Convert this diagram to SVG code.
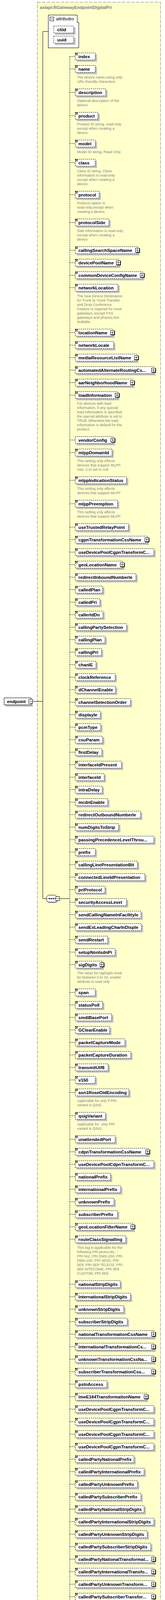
<svg xmlns="http://www.w3.org/2000/svg" width="422" height="4421" viewBox="0 0 422 4421">
<style>
.t{font-family:"Liberation Sans",Arial,sans-serif;font-size:11.3px;font-weight:bold;fill:#000}
.d{font-family:"Liberation Sans",Arial,sans-serif;font-size:9.3px;fill:#808080;white-space:pre}
.b{fill:#fff;stroke:#000;stroke-dasharray:3 2}
.s{fill:#c0c0c0}
.ln{fill:none;stroke:#000}
.dl{fill:none;stroke:#000;stroke-dasharray:3 2}
</style>
<defs>
<g id="i"><path d="M193,1.5h6M193,3.5h6M193,5.5h6" stroke="#000" fill="none"/></g>
<g id="p"><rect x="186.5" y="4.5" width="10" height="10" fill="#fff" stroke="#000"/><path d="M197.5,5v10.5H187" stroke="#000" fill="none"/><path d="M188.5,9.5h6M191.5,6.5v6" stroke="#000"/></g>
</defs>
<rect width="422" height="4421" fill="#fff"/>
<rect x="95.5" y="5.5" width="315" height="4409" fill="#ffffcc" stroke="#808080" stroke-dasharray="9 3"/>
<text x="102" y="23" style="font-family:'Liberation Sans',Arial,sans-serif;font-size:11px;font-weight:bold;fill:#808080">axlapi:RGatewayEndpointDigitalPri</text>

<g id="connectors">
<path class="ln" d="M109.5,80.5H123.5M109.5,80.5V2300.5M84,1795.5H109.5M109.5,2300.5H118.5M152.5,2300.5H178.5"/>
<path class="dl" d="M178.5,144.5V4389.5M178.5,144.5h14M178.5,176.5h14M178.5,236.5h14M178.5,296.5h14M178.5,367.5h14M178.5,416.5h14M178.5,498.5h14M178.5,569.5h14M178.5,640.5h14M178.5,672.5h14M178.5,704.5h14M178.5,736.5h14M178.5,851.5h14M178.5,883.5h14M178.5,915.5h14M178.5,947.5h14M178.5,979.5h14M178.5,1011.5h14M178.5,1126.5h14M178.5,1158.5h14M178.5,1229.5h14M178.5,1289.5h14M178.5,1349.5h14M178.5,1381.5h14M178.5,1413.5h14M178.5,1445.5h14M178.5,1477.5h14M178.5,1509.5h14M178.5,1541.5h14M178.5,1573.5h14M178.5,1605.5h14M178.5,1637.5h14M178.5,1669.5h14M178.5,1701.5h14M178.5,1733.5h14M178.5,1765.5h14M178.5,1797.5h14M178.5,1829.5h14M178.5,1861.5h14M178.5,1893.5h14M178.5,1925.5h14M178.5,1957.5h14M178.5,1989.5h14M178.5,2021.5h14M178.5,2053.5h14M178.5,2085.5h14M178.5,2117.5h14M178.5,2149.5h14M178.5,2181.5h14M178.5,2213.5h14M178.5,2245.5h14M178.5,2277.5h14M178.5,2309.5h14M178.5,2341.5h14M178.5,2373.5h14M178.5,2405.5h14M178.5,2437.5h14M178.5,2469.5h14M178.5,2540.5h14M178.5,2572.5h14M178.5,2604.5h14M178.5,2636.5h14M178.5,2668.5h14M178.5,2700.5h14M178.5,2732.5h14M178.5,2764.5h14M178.5,2796.5h14M178.5,2856.5h14M178.5,2916.5h14M178.5,2948.5h14M178.5,2980.5h14M178.5,3012.5h14M178.5,3044.5h14M178.5,3076.5h14M178.5,3108.5h14M178.5,3140.5h14M178.5,3172.5h14M178.5,3287.5h14M178.5,3319.5h14M178.5,3351.5h14M178.5,3383.5h14M178.5,3415.5h14M178.5,3447.5h14M178.5,3479.5h14M178.5,3511.5h14M178.5,3543.5h14M178.5,3575.5h14M178.5,3607.5h14M178.5,3639.5h14M178.5,3671.5h14M178.5,3703.5h14M178.5,3735.5h14M178.5,3767.5h14M178.5,3799.5h14M178.5,3831.5h14M178.5,3863.5h14M178.5,3895.5h14M178.5,3927.5h14M178.5,3959.5h14M178.5,3991.5h14M178.5,4023.5h14M178.5,4055.5h14M178.5,4087.5h14M178.5,4119.5h14M178.5,4151.5h14M178.5,4183.5h14M178.5,4215.5h14M178.5,4247.5h14M178.5,4318.5h14M178.5,4389.5h14"/>
</g>

<g id="endpoint"><rect class="s" x="14" y="1790" width="70" height="19"/><rect x="10.5" y="1786.5" width="69" height="18" fill="#fff" stroke="#000"/><text class="t" x="18" y="1800">endpoint</text><rect x="73.5" y="1790.5" width="10" height="10" fill="#fff" stroke="#000"/><path d="M75.5,1795.5h6" stroke="#000"/></g>

<g id="attributes"><path d="M123.5,38.5H197.5V57.5H201.5V122.5H123.5Z" fill="#fff" stroke="#000"/><rect x="127.5" y="43.5" width="10" height="10" fill="#fff" stroke="#000"/><path d="M129.5,48.5h6" stroke="#000"/><text x="143" y="52" style="font-family:'Liberation Sans',Arial,sans-serif;font-size:11.3px;font-style:italic">attributes</text>
<g id="ctiid"><rect class="s" x="141" y="70" width="52" height="19"/><rect class="b" x="137.5" y="66.5" width="51" height="18"/><text class="t" x="146" y="80">ctiid</text></g>
<g id="uuid"><rect class="s" x="141" y="96" width="52" height="19"/><rect class="b" x="137.5" y="92.5" width="51" height="18"/><text class="t" x="146" y="106">uuid</text></g>
</g>

<g id="sequence"><polygon points="124,2294 144,2294 149,2299 149,2307 144,2312 124,2312 119,2307 119,2299" fill="#c0c0c0"/><polygon points="123.5,2291.5 141.5,2291.5 146.5,2296.5 146.5,2304.5 141.5,2309.5 123.5,2309.5 118.5,2304.5 118.5,2296.5" fill="#fff" stroke="#000"/><path d="M121,2300.5h22" stroke="#000"/><rect x="126" y="2299" width="2" height="3"/><rect x="131" y="2299" width="2" height="3"/><rect x="136" y="2299" width="2" height="3"/><rect x="142.5" y="2295.5" width="10" height="10" fill="#fff" stroke="#000"/><path d="M144.5,2300.5h6" stroke="#000"/></g>

<g id="index" transform="translate(0,135)"><rect class="s" x="196" y="4" width="52" height="19"/><rect class="b" x="192.5" y="0.5" width="51" height="18"/><use href="#i"/><text class="t" x="200.5" y="14">index</text></g>
<g id="name" transform="translate(0,167)"><rect class="s" x="196" y="4" width="52" height="19"/><rect class="b" x="192.5" y="0.5" width="51" height="18"/><use href="#i"/><text class="t" x="200.5" y="14">name</text><text class="d" x="197" y="34">The device name,using only<tspan x="197" dy="11">URL-friendly characters</tspan></text></g>
<g id="description" transform="translate(0,227)"><rect class="s" x="196" y="4" width="79" height="19"/><rect class="b" x="192.5" y="0.5" width="78" height="18"/><use href="#i"/><text class="t" x="200.5" y="14">description</text><text class="d" x="197" y="34">Optional description of the<tspan x="197" dy="11">device</tspan></text></g>
<g id="product" transform="translate(0,287)"><rect class="s" x="196" y="4" width="59" height="19"/><rect class="b" x="192.5" y="0.5" width="58" height="18"/><use href="#i"/><text class="t" x="200.5" y="14">product</text><text class="d" x="197" y="34">Product ID string. read-only<tspan x="197" dy="11">except when creating a</tspan><tspan x="197" dy="11">device.</tspan></text></g>
<g id="model" transform="translate(0,358)"><rect class="s" x="196" y="4" width="52" height="19"/><rect class="b" x="192.5" y="0.5" width="51" height="18"/><use href="#i"/><text class="t" x="200.5" y="14">model</text><text class="d" x="197" y="34">Model ID string. Read Only</text></g>
<g id="class" transform="translate(0,407)"><rect class="s" x="196" y="4" width="52" height="19"/><rect class="b" x="192.5" y="0.5" width="51" height="18"/><use href="#i"/><text class="t" x="200.5" y="14">class</text><text class="d" x="197" y="34">Class ID string. Class<tspan x="197" dy="11">information is read-only</tspan><tspan x="197" dy="11">except when creating a</tspan><tspan x="197" dy="11">device.</tspan></text></g>
<g id="protocol" transform="translate(0,489)"><rect class="s" x="196" y="4" width="62" height="19"/><rect class="b" x="192.5" y="0.5" width="61" height="18"/><use href="#i"/><text class="t" x="200.5" y="14">protocol</text><text class="d" x="197" y="34">Protocol option is<tspan x="197" dy="11">read-only,except when</tspan><tspan x="197" dy="11">creating a device.</tspan></text></g>
<g id="protocolSide" transform="translate(0,560)"><rect class="s" x="196" y="4" width="87" height="19"/><rect class="b" x="192.5" y="0.5" width="86" height="18"/><use href="#i"/><text class="t" x="200.5" y="14">protocolSide</text><text class="d" x="197" y="34">Side information is read-only<tspan x="197" dy="11">except when creating a</tspan><tspan x="197" dy="11">device</tspan></text></g>
<g id="callingSearchSpaceName" transform="translate(0,631)"><rect class="s" x="196" y="4" width="161" height="19"/><rect class="b" x="192.5" y="0.5" width="160" height="18"/><use href="#i"/><text class="t" x="200.5" y="14">callingSearchSpaceName</text><use href="#p" x="160"/></g>
<g id="devicePoolName" transform="translate(0,663)"><rect class="s" x="196" y="4" width="112" height="19"/><rect class="b" x="192.5" y="0.5" width="111" height="18"/><use href="#i"/><text class="t" x="200.5" y="14">devicePoolName</text><use href="#p" x="111"/></g>
<g id="commonDeviceConfigName" transform="translate(0,695)"><rect class="s" x="196" y="4" width="173" height="19"/><rect class="b" x="192.5" y="0.5" width="172" height="18"/><use href="#i"/><text class="t" x="200.5" y="14">commonDeviceConfigName</text><use href="#p" x="172"/></g>
<g id="networkLocation" transform="translate(0,727)"><rect class="s" x="196" y="4" width="110" height="19"/><rect class="b" x="192.5" y="0.5" width="109" height="18"/><use href="#i"/><text class="t" x="200.5" y="14">networkLocation</text><text class="d" x="197" y="34">The new Device Destination<tspan x="197" dy="11">for Trunk to Trunk Transfer</tspan><tspan x="197" dy="11">and Drop Conference</tspan><tspan x="197" dy="11">Feature is required for most</tspan><tspan x="197" dy="11">gateways ,except FXS</tspan><tspan x="197" dy="11">gateways and phones.Not</tspan><tspan x="197" dy="11">Nullable.</tspan></text></g>
<g id="locationName" transform="translate(0,842)"><rect class="s" x="196" y="4" width="97" height="19"/><rect class="b" x="192.5" y="0.5" width="96" height="18"/><use href="#i"/><text class="t" x="200.5" y="14">locationName</text><use href="#p" x="96"/></g>
<g id="networkLocale" transform="translate(0,874)"><rect class="s" x="196" y="4" width="99" height="19"/><rect class="b" x="192.5" y="0.5" width="98" height="18"/><use href="#i"/><text class="t" x="200.5" y="14">networkLocale</text></g>
<g id="mediaResourceListName" transform="translate(0,906)"><rect class="s" x="196" y="4" width="158" height="19"/><rect class="b" x="192.5" y="0.5" width="157" height="18"/><use href="#i"/><text class="t" x="200.5" y="14">mediaResourceListName</text><use href="#p" x="157"/></g>
<g id="automatedAlternateRoutingCssName" transform="translate(0,938)"><rect class="s" x="196" y="4" width="202" height="19"/><rect class="b" x="192.5" y="0.5" width="201" height="18"/><use href="#i"/><text class="t" x="200.5" y="14">automatedAlternateRoutingCs...</text><use href="#p" x="201"/></g>
<g id="aarNeighborhoodName" transform="translate(0,970)"><rect class="s" x="196" y="4" width="148" height="19"/><rect class="b" x="192.5" y="0.5" width="147" height="18"/><use href="#i"/><text class="t" x="200.5" y="14">aarNeighborhoodName</text><use href="#p" x="147"/></g>
<g id="loadInformation" transform="translate(0,1002)"><rect class="s" x="196" y="4" width="109" height="19"/><rect class="b" x="192.5" y="0.5" width="108" height="18"/><use href="#i"/><text class="t" x="200.5" y="14">loadInformation</text><use href="#p" x="108"/><text class="d" x="197" y="34">For devices with load<tspan x="197" dy="11">information, if any special</tspan><tspan x="197" dy="11">load information is specified</tspan><tspan x="197" dy="11">the special attribute is set to</tspan><tspan x="197" dy="11">TRUE.Otherwise,the load</tspan><tspan x="197" dy="11">information is default for the</tspan><tspan x="197" dy="11">product.</tspan></text></g>
<g id="vendorConfig" transform="translate(0,1117)"><rect class="s" x="196" y="4" width="98" height="19"/><rect class="b" x="192.5" y="0.5" width="97" height="18"/><text class="t" x="200.5" y="14">vendorConfig</text><use href="#p" x="97"/></g>
<g id="mlppDomainId" transform="translate(0,1149)"><rect class="s" x="196" y="4" width="95" height="19"/><rect class="b" x="192.5" y="0.5" width="94" height="18"/><use href="#i"/><text class="t" x="200.5" y="14">mlppDomainId</text><text class="d" x="197" y="34">This setting only effects<tspan x="197" dy="11">devices that support MLPP.</tspan><tspan x="197" dy="11">Use -1 to set to null</tspan></text></g>
<g id="mlppIndicationStatus" transform="translate(0,1220)"><rect class="s" x="196" y="4" width="132" height="19"/><rect class="b" x="192.5" y="0.5" width="131" height="18"/><use href="#i"/><text class="t" x="200.5" y="14">mlppIndicationStatus</text><text class="d" x="197" y="34">This setting only affects<tspan x="197" dy="11">devices that support MLPP</tspan></text></g>
<g id="mlppPreemption" transform="translate(0,1280)"><rect class="s" x="196" y="4" width="109" height="19"/><rect class="b" x="192.5" y="0.5" width="108" height="18"/><use href="#i"/><text class="t" x="200.5" y="14">mlppPreemption</text><text class="d" x="197" y="34">This setting only affects<tspan x="197" dy="11">devices that support MLPP</tspan></text></g>
<g id="useTrustedRelayPoint" transform="translate(0,1340)"><rect class="s" x="196" y="4" width="137" height="19"/><rect class="b" x="192.5" y="0.5" width="136" height="18"/><use href="#i"/><text class="t" x="200.5" y="14">useTrustedRelayPoint</text></g>
<g id="cgpnTransformationCssName" transform="translate(0,1372)"><rect class="s" x="196" y="4" width="185" height="19"/><rect class="b" x="192.5" y="0.5" width="184" height="18"/><use href="#i"/><text class="t" x="200.5" y="14">cgpnTransformationCssName</text><use href="#p" x="184"/></g>
<g id="useDevicePoolCgpnTransformCss" transform="translate(0,1404)"><rect class="s" x="196" y="4" width="202" height="19"/><rect class="b" x="192.5" y="0.5" width="201" height="18"/><use href="#i"/><text class="t" x="200.5" y="14">useDevicePoolCgpnTransformC...</text></g>
<g id="geoLocationName" transform="translate(0,1436)"><rect class="s" x="196" y="4" width="122" height="19"/><rect class="b" x="192.5" y="0.5" width="121" height="18"/><use href="#i"/><text class="t" x="200.5" y="14">geoLocationName</text><use href="#p" x="121"/></g>
<g id="redirectInboundNumberIe" transform="translate(0,1468)"><rect class="s" x="196" y="4" width="156" height="19"/><rect class="b" x="192.5" y="0.5" width="155" height="18"/><use href="#i"/><text class="t" x="200.5" y="14">redirectInboundNumberIe</text></g>
<g id="calledPlan" transform="translate(0,1500)"><rect class="s" x="196" y="4" width="71" height="19"/><rect class="b" x="192.5" y="0.5" width="70" height="18"/><use href="#i"/><text class="t" x="200.5" y="14">calledPlan</text></g>
<g id="calledPri" transform="translate(0,1532)"><rect class="s" x="196" y="4" width="64" height="19"/><rect class="b" x="192.5" y="0.5" width="63" height="18"/><use href="#i"/><text class="t" x="200.5" y="14">calledPri</text></g>
<g id="callerIdDn" transform="translate(0,1564)"><rect class="s" x="196" y="4" width="72" height="19"/><rect class="b" x="192.5" y="0.5" width="71" height="18"/><use href="#i"/><text class="t" x="200.5" y="14">callerIdDn</text></g>
<g id="callingPartySelection" transform="translate(0,1596)"><rect class="s" x="196" y="4" width="132" height="19"/><rect class="b" x="192.5" y="0.5" width="131" height="18"/><use href="#i"/><text class="t" x="200.5" y="14">callingPartySelection</text></g>
<g id="callingPlan" transform="translate(0,1628)"><rect class="s" x="196" y="4" width="77" height="19"/><rect class="b" x="192.5" y="0.5" width="76" height="18"/><use href="#i"/><text class="t" x="200.5" y="14">callingPlan</text></g>
<g id="callingPri" transform="translate(0,1660)"><rect class="s" x="196" y="4" width="68" height="19"/><rect class="b" x="192.5" y="0.5" width="67" height="18"/><use href="#i"/><text class="t" x="200.5" y="14">callingPri</text></g>
<g id="chanIE" transform="translate(0,1692)"><rect class="s" x="196" y="4" width="54" height="19"/><rect class="b" x="192.5" y="0.5" width="53" height="18"/><use href="#i"/><text class="t" x="200.5" y="14">chanIE</text></g>
<g id="clockReference" transform="translate(0,1724)"><rect class="s" x="196" y="4" width="103" height="19"/><rect class="b" x="192.5" y="0.5" width="102" height="18"/><use href="#i"/><text class="t" x="200.5" y="14">clockReference</text></g>
<g id="dChannelEnable" transform="translate(0,1756)"><rect class="s" x="196" y="4" width="104" height="19"/><rect class="b" x="192.5" y="0.5" width="103" height="18"/><use href="#i"/><text class="t" x="200.5" y="14">dChannelEnable</text></g>
<g id="channelSelectionOrder" transform="translate(0,1788)"><rect class="s" x="196" y="4" width="142" height="19"/><rect class="b" x="192.5" y="0.5" width="141" height="18"/><use href="#i"/><text class="t" x="200.5" y="14">channelSelectionOrder</text></g>
<g id="displayIe" transform="translate(0,1820)"><rect class="s" x="196" y="4" width="65" height="19"/><rect class="b" x="192.5" y="0.5" width="64" height="18"/><use href="#i"/><text class="t" x="200.5" y="14">displayIe</text></g>
<g id="pcmType" transform="translate(0,1852)"><rect class="s" x="196" y="4" width="66" height="19"/><rect class="b" x="192.5" y="0.5" width="65" height="18"/><use href="#i"/><text class="t" x="200.5" y="14">pcmType</text></g>
<g id="csuParam" transform="translate(0,1884)"><rect class="s" x="196" y="4" width="71" height="19"/><rect class="b" x="192.5" y="0.5" width="70" height="18"/><use href="#i"/><text class="t" x="200.5" y="14">csuParam</text></g>
<g id="firstDelay" transform="translate(0,1916)"><rect class="s" x="196" y="4" width="69" height="19"/><rect class="b" x="192.5" y="0.5" width="68" height="18"/><use href="#i"/><text class="t" x="200.5" y="14">firstDelay</text></g>
<g id="interfaceIdPresent" transform="translate(0,1948)"><rect class="s" x="196" y="4" width="119" height="19"/><rect class="b" x="192.5" y="0.5" width="118" height="18"/><use href="#i"/><text class="t" x="200.5" y="14">interfaceIdPresent</text></g>
<g id="interfaceId" transform="translate(0,1980)"><rect class="s" x="196" y="4" width="75" height="19"/><rect class="b" x="192.5" y="0.5" width="74" height="18"/><use href="#i"/><text class="t" x="200.5" y="14">interfaceId</text></g>
<g id="intraDelay" transform="translate(0,2012)"><rect class="s" x="196" y="4" width="70" height="19"/><rect class="b" x="192.5" y="0.5" width="69" height="18"/><use href="#i"/><text class="t" x="200.5" y="14">intraDelay</text></g>
<g id="mcdnEnable" transform="translate(0,2044)"><rect class="s" x="196" y="4" width="84" height="19"/><rect class="b" x="192.5" y="0.5" width="83" height="18"/><use href="#i"/><text class="t" x="200.5" y="14">mcdnEnable</text></g>
<g id="redirectOutboundNumberIe" transform="translate(0,2076)"><rect class="s" x="196" y="4" width="168" height="19"/><rect class="b" x="192.5" y="0.5" width="167" height="18"/><use href="#i"/><text class="t" x="200.5" y="14">redirectOutboundNumberIe</text></g>
<g id="numDigitsToStrip" transform="translate(0,2108)"><rect class="s" x="196" y="4" width="112" height="19"/><rect class="b" x="192.5" y="0.5" width="111" height="18"/><use href="#i"/><text class="t" x="200.5" y="14">numDigitsToStrip</text></g>
<g id="passingPrecedenceLevelThroughUuie" transform="translate(0,2140)"><rect class="s" x="196" y="4" width="202" height="19"/><rect class="b" x="192.5" y="0.5" width="201" height="18"/><use href="#i"/><text class="t" x="200.5" y="14">passingPrecedenceLevelThrou...</text></g>
<g id="prefix" transform="translate(0,2172)"><rect class="s" x="196" y="4" width="52" height="19"/><rect class="b" x="192.5" y="0.5" width="51" height="18"/><use href="#i"/><text class="t" x="200.5" y="14">prefix</text></g>
<g id="callingLinePresentationBit" transform="translate(0,2204)"><rect class="s" x="196" y="4" width="160" height="19"/><rect class="b" x="192.5" y="0.5" width="159" height="18"/><use href="#i"/><text class="t" x="200.5" y="14">callingLinePresentationBit</text></g>
<g id="connectedLineIdPresentation" transform="translate(0,2236)"><rect class="s" x="196" y="4" width="179" height="19"/><rect class="b" x="192.5" y="0.5" width="178" height="18"/><use href="#i"/><text class="t" x="200.5" y="14">connectedLineIdPresentation</text></g>
<g id="priProtocol" transform="translate(0,2268)"><rect class="s" x="196" y="4" width="77" height="19"/><rect class="b" x="192.5" y="0.5" width="76" height="18"/><use href="#i"/><text class="t" x="200.5" y="14">priProtocol</text></g>
<g id="securityAccessLevel" transform="translate(0,2300)"><rect class="s" x="196" y="4" width="132" height="19"/><rect class="b" x="192.5" y="0.5" width="131" height="18"/><use href="#i"/><text class="t" x="200.5" y="14">securityAccessLevel</text></g>
<g id="sendCallingNameInFacilityIe" transform="translate(0,2332)"><rect class="s" x="196" y="4" width="169" height="19"/><rect class="b" x="192.5" y="0.5" width="168" height="18"/><use href="#i"/><text class="t" x="200.5" y="14">sendCallingNameInFacilityIe</text></g>
<g id="sendExLeadingCharInDispIe" transform="translate(0,2364)"><rect class="s" x="196" y="4" width="170" height="19"/><rect class="b" x="192.5" y="0.5" width="169" height="18"/><use href="#i"/><text class="t" x="200.5" y="14">sendExLeadingCharInDispIe</text></g>
<g id="sendRestart" transform="translate(0,2396)"><rect class="s" x="196" y="4" width="84" height="19"/><rect class="b" x="192.5" y="0.5" width="83" height="18"/><use href="#i"/><text class="t" x="200.5" y="14">sendRestart</text></g>
<g id="setupNonIsdnPi" transform="translate(0,2428)"><rect class="s" x="196" y="4" width="103" height="19"/><rect class="b" x="192.5" y="0.5" width="102" height="18"/><use href="#i"/><text class="t" x="200.5" y="14">setupNonIsdnPi</text></g>
<g id="sigDigits" transform="translate(0,2460)"><rect class="s" x="196" y="4" width="70" height="19"/><rect class="b" x="192.5" y="0.5" width="69" height="18"/><use href="#i"/><text class="t" x="200.5" y="14">sigDigits</text><use href="#p" x="69"/><text class="d" x="197" y="34">The value for sigDigits must<tspan x="197" dy="11">be between 0 to 32. enable</tspan><tspan x="197" dy="11">attribute is read only</tspan></text></g>
<g id="span" transform="translate(0,2531)"><rect class="s" x="196" y="4" width="52" height="19"/><rect class="b" x="192.5" y="0.5" width="51" height="18"/><use href="#i"/><text class="t" x="200.5" y="14">span</text></g>
<g id="statusPoll" transform="translate(0,2563)"><rect class="s" x="196" y="4" width="71" height="19"/><rect class="b" x="192.5" y="0.5" width="70" height="18"/><use href="#i"/><text class="t" x="200.5" y="14">statusPoll</text></g>
<g id="smdiBasePort" transform="translate(0,2595)"><rect class="s" x="196" y="4" width="94" height="19"/><rect class="b" x="192.5" y="0.5" width="93" height="18"/><use href="#i"/><text class="t" x="200.5" y="14">smdiBasePort</text></g>
<g id="GClearEnable" transform="translate(0,2627)"><rect class="s" x="196" y="4" width="89" height="19"/><rect class="b" x="192.5" y="0.5" width="88" height="18"/><use href="#i"/><text class="t" x="200.5" y="14">GClearEnable</text></g>
<g id="packetCaptureMode" transform="translate(0,2659)"><rect class="s" x="196" y="4" width="128" height="19"/><rect class="b" x="192.5" y="0.5" width="127" height="18"/><use href="#i"/><text class="t" x="200.5" y="14">packetCaptureMode</text></g>
<g id="packetCaptureDuration" transform="translate(0,2691)"><rect class="s" x="196" y="4" width="143" height="19"/><rect class="b" x="192.5" y="0.5" width="142" height="18"/><use href="#i"/><text class="t" x="200.5" y="14">packetCaptureDuration</text></g>
<g id="transmitUtf8" transform="translate(0,2723)"><rect class="s" x="196" y="4" width="85" height="19"/><rect class="b" x="192.5" y="0.5" width="84" height="18"/><use href="#i"/><text class="t" x="200.5" y="14">transmitUtf8</text></g>
<g id="v150" transform="translate(0,2755)"><rect class="s" x="196" y="4" width="52" height="19"/><rect class="b" x="192.5" y="0.5" width="51" height="18"/><use href="#i"/><text class="t" x="200.5" y="14">v150</text></g>
<g id="asn1RoseOidEncoding" transform="translate(0,2787)"><rect class="s" x="196" y="4" width="138" height="19"/><rect class="b" x="192.5" y="0.5" width="137" height="18"/><use href="#i"/><text class="t" x="200.5" y="14">asn1RoseOidEncoding</text><text class="d" x="197" y="34">Applicable for only if PRI<tspan x="197" dy="11">variant is QSIG</tspan></text></g>
<g id="qsigVariant" transform="translate(0,2847)"><rect class="s" x="196" y="4" width="78" height="19"/><rect class="b" x="192.5" y="0.5" width="77" height="18"/><use href="#i"/><text class="t" x="200.5" y="14">qsigVariant</text><text class="d" x="197" y="34">Applicable for  only PRI<tspan x="197" dy="11">variant is QSIG</tspan></text></g>
<g id="unattendedPort" transform="translate(0,2907)"><rect class="s" x="196" y="4" width="103" height="19"/><rect class="b" x="192.5" y="0.5" width="102" height="18"/><use href="#i"/><text class="t" x="200.5" y="14">unattendedPort</text></g>
<g id="cdpnTransformationCssName" transform="translate(0,2939)"><rect class="s" x="196" y="4" width="187" height="19"/><rect class="b" x="192.5" y="0.5" width="186" height="18"/><use href="#i"/><text class="t" x="200.5" y="14">cdpnTransformationCssName</text><use href="#p" x="186"/></g>
<g id="useDevicePoolCdpnTransformCss" transform="translate(0,2971)"><rect class="s" x="196" y="4" width="202" height="19"/><rect class="b" x="192.5" y="0.5" width="201" height="18"/><use href="#i"/><text class="t" x="200.5" y="14">useDevicePoolCdpnTransformC...</text></g>
<g id="nationalPrefix" transform="translate(0,3003)"><rect class="s" x="196" y="4" width="91" height="19"/><rect class="b" x="192.5" y="0.5" width="90" height="18"/><use href="#i"/><text class="t" x="200.5" y="14">nationalPrefix</text></g>
<g id="internationalPrefix" transform="translate(0,3035)"><rect class="s" x="196" y="4" width="117" height="19"/><rect class="b" x="192.5" y="0.5" width="116" height="18"/><use href="#i"/><text class="t" x="200.5" y="14">internationalPrefix</text></g>
<g id="unknownPrefix" transform="translate(0,3067)"><rect class="s" x="196" y="4" width="100" height="19"/><rect class="b" x="192.5" y="0.5" width="99" height="18"/><use href="#i"/><text class="t" x="200.5" y="14">unknownPrefix</text></g>
<g id="subscriberPrefix" transform="translate(0,3099)"><rect class="s" x="196" y="4" width="109" height="19"/><rect class="b" x="192.5" y="0.5" width="108" height="18"/><use href="#i"/><text class="t" x="200.5" y="14">subscriberPrefix</text></g>
<g id="geoLocationFilterName" transform="translate(0,3131)"><rect class="s" x="196" y="4" width="149" height="19"/><rect class="b" x="192.5" y="0.5" width="148" height="18"/><use href="#i"/><text class="t" x="200.5" y="14">geoLocationFilterName</text><use href="#p" x="148"/></g>
<g id="routeClassSignalling" transform="translate(0,3163)"><rect class="s" x="196" y="4" width="130" height="19"/><rect class="b" x="192.5" y="0.5" width="129" height="18"/><use href="#i"/><text class="t" x="200.5" y="14">routeClassSignalling</text><text class="d" x="197" y="34">This tag is applicable for the<tspan x="197" dy="11">following PRI protocols : :</tspan><tspan x="197" dy="11">PRI NI2, PRI DMS-250, PRI</tspan><tspan x="197" dy="11">DMS-100, PRI 4ESS, PRI</tspan><tspan x="197" dy="11">5E8, PRI 5E8 TELEOS, PRI</tspan><tspan x="197" dy="11">5E8 INTECOME, PRI 5E8</tspan><tspan x="197" dy="11">CUSTOM, PRI 5E9.</tspan></text></g>
<g id="nationalStripDigits" transform="translate(0,3278)"><rect class="s" x="196" y="4" width="116" height="19"/><rect class="b" x="192.5" y="0.5" width="115" height="18"/><use href="#i"/><text class="t" x="200.5" y="14">nationalStripDigits</text></g>
<g id="internationalStripDigits" transform="translate(0,3310)"><rect class="s" x="196" y="4" width="142" height="19"/><rect class="b" x="192.5" y="0.5" width="141" height="18"/><use href="#i"/><text class="t" x="200.5" y="14">internationalStripDigits</text></g>
<g id="unknownStripDigits" transform="translate(0,3342)"><rect class="s" x="196" y="4" width="125" height="19"/><rect class="b" x="192.5" y="0.5" width="124" height="18"/><use href="#i"/><text class="t" x="200.5" y="14">unknownStripDigits</text></g>
<g id="subscriberStripDigits" transform="translate(0,3374)"><rect class="s" x="196" y="4" width="134" height="19"/><rect class="b" x="192.5" y="0.5" width="133" height="18"/><use href="#i"/><text class="t" x="200.5" y="14">subscriberStripDigits</text></g>
<g id="nationalTransformationCssName" transform="translate(0,3406)"><rect class="s" x="196" y="4" width="202" height="19"/><rect class="b" x="192.5" y="0.5" width="201" height="18"/><use href="#i"/><text class="t" x="200.5" y="14">nationalTransformationCssName</text><use href="#p" x="201"/></g>
<g id="internationalTransformationCssName" transform="translate(0,3438)"><rect class="s" x="196" y="4" width="202" height="19"/><rect class="b" x="192.5" y="0.5" width="201" height="18"/><use href="#i"/><text class="t" x="200.5" y="14">internationalTransformationCs...</text><use href="#p" x="201"/></g>
<g id="unknownTransformationCssName" transform="translate(0,3470)"><rect class="s" x="196" y="4" width="202" height="19"/><rect class="b" x="192.5" y="0.5" width="201" height="18"/><use href="#i"/><text class="t" x="200.5" y="14">unknownTransformationCssNa...</text><use href="#p" x="201"/></g>
<g id="subscriberTransformationCssName" transform="translate(0,3502)"><rect class="s" x="196" y="4" width="202" height="19"/><rect class="b" x="192.5" y="0.5" width="201" height="18"/><use href="#i"/><text class="t" x="200.5" y="14">subscriberTransformationCss...</text><use href="#p" x="201"/></g>
<g id="pstnAccess" transform="translate(0,3534)"><rect class="s" x="196" y="4" width="82" height="19"/><rect class="b" x="192.5" y="0.5" width="81" height="18"/><use href="#i"/><text class="t" x="200.5" y="14">pstnAccess</text></g>
<g id="imeE164TransformationName" transform="translate(0,3566)"><rect class="s" x="196" y="4" width="183" height="19"/><rect class="b" x="192.5" y="0.5" width="182" height="18"/><use href="#i"/><text class="t" x="200.5" y="14">imeE164TransformationName</text><use href="#p" x="182"/></g>
<g id="useDevicePoolCgpnTransformCssNatl" transform="translate(0,3598)"><rect class="s" x="196" y="4" width="202" height="19"/><rect class="b" x="192.5" y="0.5" width="201" height="18"/><use href="#i"/><text class="t" x="200.5" y="14">useDevicePoolCgpnTransformC...</text></g>
<g id="useDevicePoolCgpnTransformCssIntl" transform="translate(0,3630)"><rect class="s" x="196" y="4" width="202" height="19"/><rect class="b" x="192.5" y="0.5" width="201" height="18"/><use href="#i"/><text class="t" x="200.5" y="14">useDevicePoolCgpnTransformC...</text></g>
<g id="useDevicePoolCgpnTransformCssUnkn" transform="translate(0,3662)"><rect class="s" x="196" y="4" width="202" height="19"/><rect class="b" x="192.5" y="0.5" width="201" height="18"/><use href="#i"/><text class="t" x="200.5" y="14">useDevicePoolCgpnTransformC...</text></g>
<g id="useDevicePoolCgpnTransformCssSubs" transform="translate(0,3694)"><rect class="s" x="196" y="4" width="202" height="19"/><rect class="b" x="192.5" y="0.5" width="201" height="18"/><use href="#i"/><text class="t" x="200.5" y="14">useDevicePoolCgpnTransformC...</text></g>
<g id="calledPartyNationalPrefix" transform="translate(0,3726)"><rect class="s" x="196" y="4" width="151" height="19"/><rect class="b" x="192.5" y="0.5" width="150" height="18"/><use href="#i"/><text class="t" x="200.5" y="14">calledPartyNationalPrefix</text></g>
<g id="calledPartyInternationalPrefix" transform="translate(0,3758)"><rect class="s" x="196" y="4" width="177" height="19"/><rect class="b" x="192.5" y="0.5" width="176" height="18"/><use href="#i"/><text class="t" x="200.5" y="14">calledPartyInternationalPrefix</text></g>
<g id="calledPartyUnknownPrefix" transform="translate(0,3790)"><rect class="s" x="196" y="4" width="160" height="19"/><rect class="b" x="192.5" y="0.5" width="159" height="18"/><use href="#i"/><text class="t" x="200.5" y="14">calledPartyUnknownPrefix</text></g>
<g id="calledPartySubscriberPrefix" transform="translate(0,3822)"><rect class="s" x="196" y="4" width="169" height="19"/><rect class="b" x="192.5" y="0.5" width="168" height="18"/><use href="#i"/><text class="t" x="200.5" y="14">calledPartySubscriberPrefix</text></g>
<g id="calledPartyNationalStripDigits" transform="translate(0,3854)"><rect class="s" x="196" y="4" width="177" height="19"/><rect class="b" x="192.5" y="0.5" width="176" height="18"/><use href="#i"/><text class="t" x="200.5" y="14">calledPartyNationalStripDigits</text></g>
<g id="calledPartyInternationalStripDigits" transform="translate(0,3886)"><rect class="s" x="196" y="4" width="202" height="19"/><rect class="b" x="192.5" y="0.5" width="201" height="18"/><use href="#i"/><text class="t" x="200.5" y="14">calledPartyInternationalStripDigits</text></g>
<g id="calledPartyUnknownStripDigits" transform="translate(0,3918)"><rect class="s" x="196" y="4" width="185" height="19"/><rect class="b" x="192.5" y="0.5" width="184" height="18"/><use href="#i"/><text class="t" x="200.5" y="14">calledPartyUnknownStripDigits</text></g>
<g id="calledPartySubscriberStripDigits" transform="translate(0,3950)"><rect class="s" x="196" y="4" width="194" height="19"/><rect class="b" x="192.5" y="0.5" width="193" height="18"/><use href="#i"/><text class="t" x="200.5" y="14">calledPartySubscriberStripDigits</text></g>
<g id="calledPartyNationalTransformationCssName" transform="translate(0,3982)"><rect class="s" x="196" y="4" width="202" height="19"/><rect class="b" x="192.5" y="0.5" width="201" height="18"/><use href="#i"/><text class="t" x="200.5" y="14">calledPartyNationalTransformat...</text><use href="#p" x="201"/></g>
<g id="calledPartyInternationalTransformationCssName" transform="translate(0,4014)"><rect class="s" x="196" y="4" width="202" height="19"/><rect class="b" x="192.5" y="0.5" width="201" height="18"/><use href="#i"/><text class="t" x="200.5" y="14">calledPartyInternationalTransfo...</text><use href="#p" x="201"/></g>
<g id="calledPartyUnknownTransformationCssName" transform="translate(0,4046)"><rect class="s" x="196" y="4" width="202" height="19"/><rect class="b" x="192.5" y="0.5" width="201" height="18"/><use href="#i"/><text class="t" x="200.5" y="14">calledPartyUnknownTransform...</text><use href="#p" x="201"/></g>
<g id="calledPartySubscriberTransformationCssName" transform="translate(0,4078)"><rect class="s" x="196" y="4" width="202" height="19"/><rect class="b" x="192.5" y="0.5" width="201" height="18"/><use href="#i"/><text class="t" x="200.5" y="14">calledPartySubscriberTransfor...</text><use href="#p" x="201"/></g>
<g id="useDevicePoolCalledCssNatl" transform="translate(0,4110)"><rect class="s" x="196" y="4" width="173" height="19"/><rect class="b" x="192.5" y="0.5" width="172" height="18"/><use href="#i"/><text class="t" x="200.5" y="14">useDevicePoolCalledCssNatl</text></g>
<g id="useDevicePoolCalledCssIntl" transform="translate(0,4142)"><rect class="s" x="196" y="4" width="170" height="19"/><rect class="b" x="192.5" y="0.5" width="169" height="18"/><use href="#i"/><text class="t" x="200.5" y="14">useDevicePoolCalledCssIntl</text></g>
<g id="useDevicePoolCalledCssUnkn" transform="translate(0,4174)"><rect class="s" x="196" y="4" width="181" height="19"/><rect class="b" x="192.5" y="0.5" width="180" height="18"/><use href="#i"/><text class="t" x="200.5" y="14">useDevicePoolCalledCssUnkn</text></g>
<g id="useDevicePoolCalledCssSubs" transform="translate(0,4206)"><rect class="s" x="196" y="4" width="181" height="19"/><rect class="b" x="192.5" y="0.5" width="180" height="18"/><use href="#i"/><text class="t" x="200.5" y="14">useDevicePoolCalledCssSubs</text></g>
<g id="useDevicePoolCntdPartyTransformationCss" transform="translate(0,4238)"><rect class="s" x="196" y="4" width="202" height="19"/><rect class="b" x="192.5" y="0.5" width="201" height="18"/><use href="#i"/><text class="t" x="200.5" y="14">useDevicePoolCntdPartyTransfo...</text><text class="d" x="197" y="34">This tag is applicable for the following PRI<tspan x="197" dy="11">protocols : PRI DMS-100, PRI DMS-250, PRI</tspan><tspan x="197" dy="11">ISO QSIG T1, PRI ISO QSIG E1.</tspan></text></g>
<g id="cntdPartyTransformationCssName" transform="translate(0,4309)"><rect class="s" x="196" y="4" width="202" height="19"/><rect class="b" x="192.5" y="0.5" width="201" height="18"/><use href="#i"/><text class="t" x="200.5" y="14">cntdPartyTransformationCssNa...</text><use href="#p" x="201"/><text class="d" x="197" y="34">This tag is applicable for the following PRI<tspan x="197" dy="11">protocols : PRI DMS-100, PRI DMS-250, PRI</tspan><tspan x="197" dy="11">ISO QSIG T1, PRI ISO QSIG E1.</tspan></text></g>
<g id="confidentialAccess" transform="translate(0,4380)"><rect class="s" x="196" y="4" width="126" height="19"/><rect class="b" x="192.5" y="0.5" width="125" height="18"/><text class="t" x="200.5" y="14">confidentialAccess</text><use href="#p" x="125"/></g>
</svg>
